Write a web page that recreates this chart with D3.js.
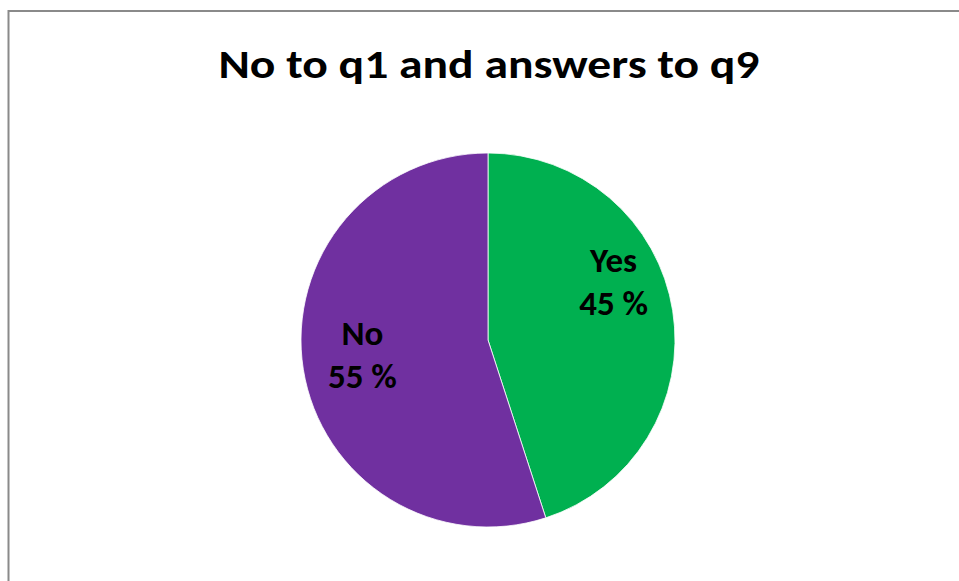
<!DOCTYPE html>
<html>
<head>
<meta charset="utf-8">
<script src="https://cdn.jsdelivr.net/npm/d3@7"></script>
<style>
  html, body { margin: 0; padding: 0; background: #fff; }
  svg { display: block; }
</style>
</head>
<body>
<script>
// Answers to q9 among respondents who said No to q1
const categories = ["Yes", "No"];
const values = [45, 55];
const colors = ["#00B050", "#7030A0"];
const chartTitle = "No to q1 and answers to q9";

const width = 959, height = 581;
const cx = 488, cy = 340, radius = 187;
const font = "Carlito, Calibri, Lato, sans-serif";

const svg = d3.select("body").append("svg")
  .attr("width", width)
  .attr("height", height);

// Chart area frame
svg.append("rect")
  .attr("x", 8.5).attr("y", 11)
  .attr("width", 1000).attr("height", 700)
  .attr("fill", "#fff")
  .attr("stroke", "#8a8a8a")
  .attr("stroke-width", 2);

svg.append("text")
  .attr("x", 489).attr("y", 78)
  .attr("text-anchor", "middle")
  .attr("font-family", font)
  .attr("font-weight", 700)
  .attr("font-size", 41)
  .attr("textLength", 541)
  .attr("lengthAdjust", "spacingAndGlyphs")
  .attr("fill", "#000")
  .text(chartTitle);

const data = categories.map((c, i) => ({ category: c, value: values[i] }));
const color = d3.scaleOrdinal().domain(categories).range(colors);

const pie = d3.pie().sort(null).value(d => d.value);
const arc = d3.arc().innerRadius(0).outerRadius(radius);

const g = svg.append("g").attr("transform", `translate(${cx},${cy})`);
const arcs = pie(data);

g.selectAll("path")
  .data(arcs)
  .join("path")
  .attr("d", arc)
  .attr("fill", d => color(d.data.category))
  .attr("stroke", "#fff")
  .attr("stroke-width", 0.8);

// Labels sit inside each slice, nudged vertically from the slice centroid
const labelArc = d3.arc().innerRadius(radius * 0.68).outerRadius(radius * 0.68);
const labelNudge = { Yes: -48, No: -15 };
const labels = g.selectAll("g.label")
  .data(arcs)
  .join("g")
  .attr("class", "label")
  .attr("transform", d => {
    const [x, y] = labelArc.centroid(d);
    return `translate(${x},${y + labelNudge[d.data.category]})`;
  });

labels.append("text")
  .attr("text-anchor", "middle")
  .attr("font-family", font)
  .attr("font-weight", 700)
  .attr("font-size", 35)
  .attr("fill", "#000")
  .selectAll("tspan")
  .data(d => [d.data.category, `${d.data.value} %`])
  .join("tspan")
  .attr("x", 0)
  .attr("dy", (d, i) => i === 0 ? 0 : 43)
  .text(d => d);
</script>
</body>
</html>
